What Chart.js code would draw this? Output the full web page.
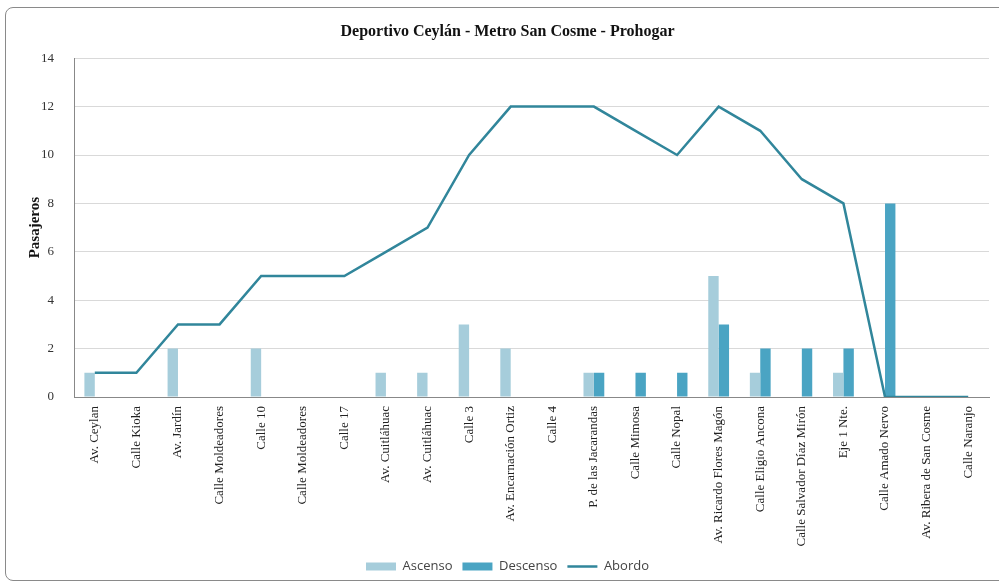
<!DOCTYPE html>
<html>
<head>
<meta charset="utf-8">
<script src="https://cdn.jsdelivr.net/npm/chart.js@4"></script>
<style>
  body { margin: 0; background: #fff; }
  #frame { position: absolute; left: 5px; top: 7px; width: 1000px; height: 572px; border: 1px solid #8a8a8a; border-radius: 8px; }
  #wrap { position: absolute; left: 0; top: 0; width: 999px; height: 584px; }
</style>
</head>
<body>
<div id="frame"></div>
<div id="wrap"><canvas id="chart"></canvas></div>
<script>
// Stops along the route
const stops = [
    'Av. Ceylan', 'Calle Kioka', 'Av. Jardín', 'Calle Moldeadores', 'Calle 10',
    'Calle Moldeadores', 'Calle 17', 'Av. Cuitláhuac', 'Av. Cuitláhuac', 'Calle 3',
    'Av. Encarnación Ortiz', 'Calle 4', 'P. de las Jacarandas', 'Calle Mimosa', 'Calle Nopal',
    'Av. Ricardo Flores Magón', 'Calle Eligio Ancona', 'Calle Salvador Díaz Mirón', 'Eje 1 Nte.',
    'Calle Amado Nervo', 'Av. Ribera de San Cosme', 'Calle Naranjo'
];

// Passengers getting on / off / on board
const ascenso  = [1, 0, 2, 0, 2, 0, 0, 1, 1, 3, 2, 0, 1, 0, 0, 5, 1, 0, 1, 0, 0, 0];
const descenso = [0, 0, 0, 0, 0, 0, 0, 0, 0, 0, 0, 0, 1, 1, 1, 3, 2, 2, 2, 8, 0, 0];
const abordo   = [1, 1, 3, 3, 5, 5, 5, 6, 7, 10, 12, 12, 12, 11, 10, 12, 11, 9, 8, 0, 0, 0];

const serif = "'Liberation Serif', 'DejaVu Serif', serif";

const ctx = document.getElementById('chart').getContext('2d');
new Chart(ctx, {
    type: 'bar',
    data: {
        labels: stops,
        datasets: [
            {
                label: 'Ascenso',
                data: ascenso,
                backgroundColor: '#a6cddb',
                pointStyle: 'rect',
                order: 1
            },
            {
                label: 'Descenso',
                data: descenso,
                backgroundColor: '#4aa4c3',
                pointStyle: 'rect',
                order: 1
            },
            {
                label: 'Abordo',
                type: 'line',
                data: abordo,
                borderColor: '#31869b',
                backgroundColor: '#31869b',
                borderWidth: 2.5,
                pointRadius: 0,
                pointStyle: 'line',
                tension: 0,
                order: 0
            }
        ]
    },
    options: {
        responsive: true,
        maintainAspectRatio: false,
        animation: false,
        layout: { padding: { left: 26, right: 10, top: 0, bottom: 1 } },
        datasets: {
            bar: { barPercentage: 1, categoryPercentage: 0.5 }
        },
        plugins: {
            title: {
                display: true,
                text: 'Deportivo Ceylán - Metro San Cosme - Prohogar',
                color: '#111',
                font: { family: serif, size: 16, weight: 'bold' },
                padding: { top: 22, bottom: 17 }
            },
            legend: {
                position: 'bottom',
                labels: {
                    usePointStyle: true,
                    pointStyleWidth: 30,
                    boxHeight: 8,
                    color: '#444',
                    font: { family: "'Open Sans', sans-serif", size: 13 },
                    padding: 10,
                    sort: (a, b) => a.datasetIndex - b.datasetIndex
                }
            },
            tooltip: { enabled: false }
        },
        scales: {
            x: {
                grid: { display: false },
                border: { color: '#888' },
                ticks: {
                    minRotation: 90,
                    maxRotation: 90,
                    autoSkip: false,
                    color: '#222',
                    padding: 1,
                    font: { family: serif, size: 13 }
                },
                afterFit: (scale) => { scale.height = 153; }
            },
            y: {
                min: 0,
                max: 14,
                ticks: { stepSize: 2, color: '#333', font: { family: serif, size: 13 }, padding: 20 },
                grid: { color: '#d9d9d9', drawTicks: false },
                border: { color: '#888' },
                title: {
                    display: true,
                    text: 'Pasajeros',
                    color: '#111',
                    font: { family: serif, size: 15, weight: 'bold' },
                    padding: 0
                },
                afterFit: (scale) => { scale.width = 48; }
            }
        }
    }
});
</script>
</body>
</html>
